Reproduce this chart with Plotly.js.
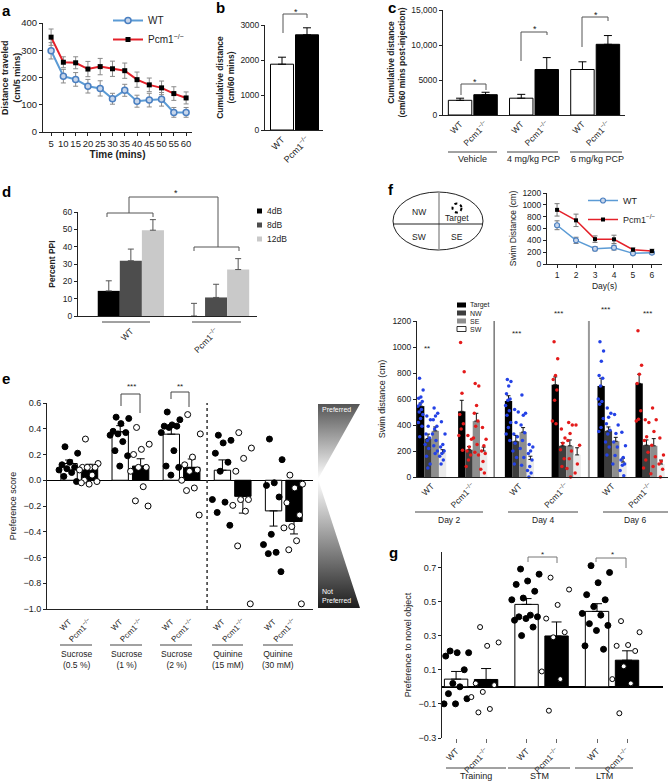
<!DOCTYPE html>
<html><head><meta charset="utf-8">
<script src="https://cdn.plot.ly/plotly-3.0.1.min.js"></script>
<style>body{margin:0;background:#fff}#chart{width:671px;height:783px}</style>
</head><body><div id="chart"></div>
<script>
const FONT='Liberation Sans, Arial, sans-serif';
const KO='Pcm1<sup>−/−</sup>';
// ---------- Panel a ----------
const aTime=[5,10,15,20,25,30,35,40,45,50,55,60];
const aWT=[298,205,193,168,160,122,153,113,117,120,72,72];
const aWTerr=[30,25,25,25,28,20,22,22,25,25,18,18];
const aKO=[348,256,254,231,240,232,225,192,173,162,141,125];
const aKOerr=[30,20,22,28,30,28,28,28,25,25,25,22];
// ---------- Panel b ----------
const bGeno=['WT',KO];
const bVals=[1880,2720];
const bErr=[200,200];
// ---------- Panel c ----------
const cDose=['Vehicle','4 mg/kg PCP','6 mg/kg PCP'];
const cWT=[2100,2400,6500], cWTerr=[300,550,1100];
const cKO=[2900,6500,10100], cKOerr=[350,1700,1250];
// ---------- Panel d ----------
const dGeno=['WT',KO];
const dLevels=['4dB','8dB','12dB'];
const d4dB=[14.5,0], d4dBErr=[5.8,7.3];
const d8dB=[31.9,10.7], d8dBErr=[6.7,7.6];
const d12dB=[49.5,26.8], d12dBErr=[6.1,6.3];
// ---------- Panel e ----------
const eGroups=['Sucrose<br>(0.5 %)','Sucrose<br>(1 %)','Sucrose<br>(2 %)','Quinine<br>(15 mM)','Quinine<br>(30 mM)'];
const eWT=[0.13,0.376,0.358,0.078,-0.238], eWTerr=[0.027,0.048,0.052,0.08,0.118];
const eKO=[0.084,0.11,0.10,-0.125,-0.32], eKOerr=[0.04,0.057,0.065,0.13,0.097];
const eWTpts=[[0.26,0.21,0.14,0.12,0.10,0.09,0.08,0.06,0.03,-0.01],
 [0.49,0.48,0.44,0.38,0.37,0.36,0.35,0.30,0.23,0.19,0.11],
 [0.53,0.47,0.43,0.42,0.42,0.41,0.37,0.23,0.11,0.10,0.04],
 [0.35,0.31,0.29,0.21,0.14,0.07,-0.15,-0.17,-0.25,-0.35],
 [0.32,0.16,-0.02,-0.04,-0.13,-0.42,-0.50,-0.56,-0.57,-0.71]];
const eKOpts=[[0.32,0.13,0.10,0.10,0.10,0.10,0.08,0.04,0.0,-0.01,-0.03,-0.02],
 [0.41,0.28,0.24,0.20,0.10,0.10,0.07,-0.05,-0.16,-0.20],
 [0.51,0.36,0.18,0.12,0.08,0.07,0.0,-0.06,-0.08,-0.27],
 [0.37,0.25,0.17,0.07,-0.15,-0.15,-0.195,-0.24,-0.51,-0.96],
 [0.04,-0.03,-0.06,-0.175,-0.27,-0.36,-0.37,-0.47,-0.54,-0.96]];
// ---------- Panel f (line) ----------
const fDays=[1,2,3,4,5,6];
const fLineWT=[655,400,258,276,180,192], fLineWTerr=[75,52,35,40,25,25];
const fLineKO=[915,738,420,417,242,220], fLineKOerr=[105,105,55,70,30,30];
// ---------- Panel f (bars) ----------
const fGroupLabels=['WT',KO,'WT',KO,'WT',KO];
const fDayNames=['Day 2','Day 4','Day 6'];
const fQuad=['Target','NW','SE','SW'];
const fTarget=[545,505,585,710,700,720], fTargetErr=[25,85,40,60,60,70];
const fNW=[295,210,275,240,355,245], fNWErr=[35,25,45,25,30,40];
const fSE=[355,430,345,240,275,240], fSEErr=[30,60,35,45,30,55];
const fSW=[185,200,135,170,115,100], fSWErr=[25,30,25,55,30,30];
const fTargetPts=[[760,670,615,605,580,560,545,520,500,480,450,420,390,310],
 [1035,810,645,480,410,370,320,205],
 [750,735,700,640,600,590,550,510,475,420,380,330,280],
 [1040,910,780,750,670,590,430,410],
 [1040,970,890,780,760,700,600,580,560,450,380,350],
 [1125,860,790,720,510,445,430]];
const fNWPts=[[470,440,390,330,300,280,250,220,160,100,70],
 [320,290,230,200,170,130,80],
 [520,500,420,330,310,260,200,150,100],
 [370,300,260,210,140,80],
 [530,490,460,410,360,330,270,230,170],
 [440,420,310,280,190,130,70]];
const fSEPts=[[530,490,470,440,390,370,330,280,240,200,180],
 [720,700,550,490,430,390,300,250,190,170],
 [630,490,475,400,340,280,220,150,90],
 [420,400,335,280,200,140,65,0],
 [480,400,335,270,230,165,100],
 [530,440,350,245,155,80,25]];
const fSWPts=[[425,330,250,230,200,180,160,130,100],
 [380,290,240,200,180,120,60,30],
 [250,230,200,180,130,80,50,30,0],
 [400,245,100,30],
 [345,240,150,130,100,90,50,10],
 [300,170,120,100,60,0]];
// ---------- Panel g ----------
const gGroups=['Training','STM','LTM'];
const gWT=[0.045,0.483,0.442], gWTerr=[0.045,0.034,0.045];
const gKO=[0.043,0.298,0.156], gKOerr=[0.064,0.082,0.055];
const gWTpts=[[0.21,0.2,0.2,0.18,0.1,0.02,0.01,0.0,-0.04,-0.07,-0.1,-0.1],
 [0.69,0.66,0.62,0.6,0.56,0.52,0.51,0.42,0.41,0.41,0.4,0.39,0.35,0.3],
 [0.71,0.67,0.61,0.54,0.51,0.47,0.43,0.42,0.37,0.36,0.33,0.24,0.22]];
const gKOpts=[[0.35,0.26,0.24,0.02,0.01,-0.03,-0.06,-0.13,-0.15],
 [0.64,0.57,0.48,0.4,0.32,0.29,0.09,0.045,-0.14],
 [0.385,0.32,0.245,0.24,0.21,0.12,0.045,0.02,-0.155]];

// ================= layout helpers =================
const W=671,H=783;
const fx=v=>v/W, fy=v=>1-v/H;
const XD=(a,b)=>[fx(a),fx(b)], YD=(t,b)=>[fy(b),fy(t)];
const jit=(i,s)=>((((i*0.618034)+0.3)%1)-0.5)*s;
const upE=(v,e)=>v.map((x,i)=>x>=0?e[i]:0);
const dnE=(v,e)=>v.map((x,i)=>x<0?e[i]:0);
const zeros=n=>new Array(n).fill(0);
const traces=[];
const BLUE='#5b9bd5', RED='#e4212a';

// ---- a
traces.push({type:'scatter',xaxis:'x',yaxis:'y',x:aTime,y:aWT,name:'WT',mode:'lines+markers',legend:'legend',
 line:{color:BLUE,width:2},marker:{symbol:'circle',size:6,color:'#c8d6ea',line:{color:'#4a7fc1',width:1.5}},
 error_y:{type:'data',array:aWTerr,color:'#8a8a8a',thickness:1,width:2.5}});
traces.push({type:'scatter',xaxis:'x',yaxis:'y',x:aTime,y:aKO,name:KO,mode:'lines+markers',legend:'legend',
 line:{color:RED,width:2},marker:{symbol:'square',size:5,color:'#000'},
 error_y:{type:'data',array:aKOerr,color:'#8a8a8a',thickness:1,width:2.5}});
// ---- b
traces.push({type:'bar',xaxis:'x2',yaxis:'y2',x:bGeno,y:bVals,width:0.92,showlegend:false,
 marker:{color:['#fff','#000'],line:{color:'#000',width:1}},
 error_y:{type:'data',symmetric:false,array:bErr,arrayminus:zeros(2),color:'#000',thickness:1,width:4}});
// ---- c
const cPosWT=cDose.map((_,g)=>g*2.4), cPosKO=cDose.map((_,g)=>g*2.4+1);
traces.push({type:'bar',xaxis:'x3',yaxis:'y3',x:cPosWT,y:cWT,width:0.92,showlegend:false,
 marker:{color:'#fff',line:{color:'#000',width:1}},
 error_y:{type:'data',symmetric:false,array:cWTerr,arrayminus:zeros(3),color:'#000',thickness:1,width:4}});
traces.push({type:'bar',xaxis:'x3',yaxis:'y3',x:cPosKO,y:cKO,width:0.92,showlegend:false,
 marker:{color:'#000',line:{color:'#000',width:1}},
 error_y:{type:'data',symmetric:false,array:cKOerr,arrayminus:zeros(3),color:'#000',thickness:1,width:4}});
// ---- d
const dSeries=[d4dB,d8dB,d12dB], dErrs=[d4dBErr,d8dBErr,d12dBErr], dColors=['#000','#4d4d4d','#c9c9c9'];
dLevels.forEach((lv,k)=>traces.push({type:'bar',xaxis:'x4',yaxis:'y4',x:dGeno,y:dSeries[k],name:lv,showlegend:false,
 width:0.259,offset:-0.3885+k*0.259,marker:{color:dColors[k]},
 error_y:{type:'data',symmetric:false,array:dErrs[k],arrayminus:zeros(2),color:'#555',thickness:1,width:3}}));
// ---- e
const ePosWT=eGroups.map((_,g)=>g*2.5), ePosKO=eGroups.map((_,g)=>g*2.5+1);
traces.push({type:'bar',xaxis:'x5',yaxis:'y5',x:ePosWT,y:eWT,width:0.8,showlegend:false,
 marker:{color:'#fff',line:{color:'#000',width:1}},
 error_y:{type:'data',symmetric:false,array:upE(eWT,eWTerr),arrayminus:dnE(eWT,eWTerr),color:'#000',thickness:1,width:4}});
traces.push({type:'bar',xaxis:'x5',yaxis:'y5',x:ePosKO,y:eKO,width:0.8,showlegend:false,
 marker:{color:'#000',line:{color:'#000',width:1}},
 error_y:{type:'data',symmetric:false,array:upE(eKO,eKOerr),arrayminus:dnE(eKO,eKOerr),color:'#000',thickness:1,width:4}});
function ptsTrace(groups,pos,spread,xa,ya,filled,size){
  const xs=[],ys=[];
  groups.forEach((arr,g)=>arr.forEach((v,i)=>{xs.push(pos[g]+jit(i,spread));ys.push(v);}));
  return {type:'scatter',mode:'markers',xaxis:xa,yaxis:ya,x:xs,y:ys,showlegend:false,cliponaxis:false,
   marker:{size:size,color:filled?'#000':'#fff',line:{color:'#000',width:1}}};
}
traces.push(ptsTrace(eWTpts,ePosWT,1.0,'x5','y5',true,6));
traces.push(ptsTrace(eKOpts,ePosKO,1.0,'x5','y5',false,6));
// ---- e gradient wedge (decoration)
traces.push({type:'scatter',xaxis:'x6',yaxis:'y6',x:[0,1,0,1,0,0],y:[1,1,0.632,0,0,1],mode:'lines',line:{width:0,color:'rgba(0,0,0,0)'},
 fill:'toself',fillgradient:{type:'vertical',colorscale:[[0,'#1e1e1e'],[0.632,'#ffffff'],[1,'#555555']]},showlegend:false,hoverinfo:'skip'});
// ---- f line
traces.push({type:'scatter',xaxis:'x7',yaxis:'y7',x:fDays,y:fLineWT,name:'WT',mode:'lines+markers',legend:'legend3',
 line:{color:BLUE,width:1.5},marker:{symbol:'circle',size:5,color:'#c8d6ea',line:{color:'#4a7fc1',width:1.2}},
 error_y:{type:'data',array:fLineWTerr,color:'#777',thickness:1,width:2.5}});
traces.push({type:'scatter',xaxis:'x7',yaxis:'y7',x:fDays,y:fLineKO,name:KO,mode:'lines+markers',legend:'legend3',
 line:{color:RED,width:1.5},marker:{symbol:'square',size:4,color:'#000'},
 error_y:{type:'data',array:fLineKOerr,color:'#777',thickness:1,width:2.5}});
// ---- f bars
const fPos=[0,0.94,2.01,3.08,4.13,5.0];
const fBW=0.167;
const fMeans=[fTarget,fNW,fSE,fSW], fErrs=[fTargetErr,fNWErr,fSEErr,fSWErr], fPts=[fTargetPts,fNWPts,fSEPts,fSWPts];
const fColors=['#000','#3d3d3d','#8e8e8e','#ebebeb'];
fQuad.forEach((q,k)=>traces.push({type:'bar',xaxis:'x8',yaxis:'y8',x:fPos,y:fMeans[k],name:q,showlegend:false,
 width:fBW,offset:-2*fBW+k*fBW,marker:{color:fColors[k],line:{width:0}},
 error_y:{type:'data',symmetric:false,array:fErrs[k],arrayminus:zeros(6),color:'#111',thickness:1,width:2}}));
const fxW=[],fyW=[],fxK=[],fyK=[];
fPts.forEach((set,k)=>set.forEach((arr,g)=>arr.forEach((v,i)=>{
  const xx=fPos[g]-2*fBW+(k+0.5)*fBW+jit(i,fBW*0.8);
  if(g%2===0){fxW.push(xx);fyW.push(v);}else{fxK.push(xx);fyK.push(v);}
})));
traces.push({type:'scatter',mode:'markers',xaxis:'x8',yaxis:'y8',x:fxW,y:fyW,showlegend:false,cliponaxis:false,marker:{size:3.5,color:'#2442e6'}});
traces.push({type:'scatter',mode:'markers',xaxis:'x8',yaxis:'y8',x:fxK,y:fyK,showlegend:false,cliponaxis:false,marker:{size:3.5,color:'#e41b1b'}});
// ---- g
const gPosWT=gGroups.map((_,g)=>g*2.35), gPosKO=gGroups.map((_,g)=>g*2.35+1);
traces.push({type:'bar',xaxis:'x9',yaxis:'y9',x:gPosWT,y:gWT,width:0.78,showlegend:false,
 marker:{color:'#fff',line:{color:'#000',width:1}},
 error_y:{type:'data',symmetric:false,array:gWTerr,arrayminus:zeros(3),color:'#000',thickness:1,width:5}});
traces.push({type:'bar',xaxis:'x9',yaxis:'y9',x:gPosKO,y:gKO,width:0.78,showlegend:false,
 marker:{color:'#000',line:{color:'#000',width:1}},
 error_y:{type:'data',symmetric:false,array:gKOerr,arrayminus:zeros(3),color:'#000',thickness:1,width:5}});
traces.push(ptsTrace(gWTpts,gPosWT,1.0,'x9','y9',true,6));
traces.push(ptsTrace(gKOpts,gPosKO,1.0,'x9','y9',false,5));

// ================= axes =================
const TF=(s)=>({family:FONT,size:s,color:'#222'});
function ax(o){return Object.assign({showgrid:false,zeroline:false,showline:true,linecolor:'#222',linewidth:1,
 ticks:'outside',ticklen:3,tickcolor:'#222',tickfont:TF(9),fixedrange:true},o);}
const alt=n=>Array.from({length:n},(_,i)=>i%2?KO:'WT');

const layout={width:W,height:H,margin:{l:0,r:0,t:0,b:0},paper_bgcolor:'#fff',plot_bgcolor:'rgba(0,0,0,0)',
 font:{family:FONT,color:'#222'},barmode:'overlay',showlegend:true,
 xaxis:ax({domain:XD(43,192),anchor:'y',range:[1.7,62.4],tickvals:aTime,tickangle:0,tickfont:TF(9.5),
   title:{text:'<b>Time (mins)</b>',font:TF(10),standoff:2}}),
 yaxis:ax({domain:YD(23,132),anchor:'x',range:[0,400],dtick:100,tickfont:TF(9.5)}),
 xaxis2:ax({domain:XD(265,323),anchor:'y2',type:'category',range:[-0.68,1.64],tickangle:-45,ticks:'',tickfont:TF(9)}),
 yaxis2:ax({domain:YD(25,130),anchor:'x2',range:[0,3000],dtick:1000,tickfont:TF(8.5),
   title:{text:'<b>Cumulative distance<br>(cm/60 mins)</b>',font:TF(8.5),standoff:4}}),
 xaxis3:ax({domain:XD(443,625),anchor:'y3',range:[-0.67,6.47],tickvals:cPosWT.flatMap((v,i)=>[v,cPosKO[i]]),
   ticktext:alt(6),tickangle:-45,ticks:'',tickfont:TF(8.5)}),
 yaxis3:ax({domain:YD(10,115),anchor:'x3',range:[0,15000],tickvals:[0,5000,10000,15000],ticktext:['0','5000','10,000','15,000'],tickfont:TF(8.5),
   title:{text:'<b>Cumulative distance<br>(cm/60 mins post-injection)</b>',font:TF(8.5),standoff:4}}),
 xaxis4:ax({domain:XD(78,257),anchor:'y4',type:'category',range:[-0.62,1.48],tickangle:-45,ticks:'',ticklabelstandoff:6,tickfont:TF(8.5)}),
 yaxis4:ax({domain:YD(212,316),anchor:'x4',range:[0,60],dtick:10,tickfont:TF(8.5),
   title:{text:'<b>Percent PPI</b>',font:TF(8.5),standoff:5}}),
 xaxis5:ax({domain:XD(47,313),anchor:'y5',range:[-1.08,11.93],tickvals:ePosWT.flatMap((v,i)=>[v,ePosKO[i]]),
   ticktext:alt(10),tickangle:-45,ticks:'',ticklabelstandoff:4,tickfont:TF(8)}),
 yaxis5:ax({domain:YD(403,609),anchor:'x5',range:[-1,0.6],dtick:0.2,tickformat:'.1f',tickfont:TF(9),
   zeroline:true,zerolinecolor:'#000',zerolinewidth:1.5,title:{text:'Preference score',font:TF(9),standoff:5}}),
 xaxis6:{domain:XD(318,360),anchor:'y6',range:[0,1],visible:false,fixedrange:true},
 yaxis6:{domain:YD(404,608),anchor:'x6',range:[0,1],visible:false,fixedrange:true},
 xaxis7:ax({domain:XD(547,662),anchor:'y7',range:[0.47,6.53],dtick:1,tickfont:TF(8.5),
   title:{text:'Day(s)',font:TF(8.5),standoff:3}}),
 yaxis7:ax({domain:YD(193,264),anchor:'x7',range:[0,1200],dtick:200,tickfont:TF(8.5),
   title:{text:'Swim Distance (cm)',font:TF(8.5),standoff:4}}),
 xaxis8:ax({domain:XD(417,668),anchor:'y8',range:[-0.335,5.41],tickvals:fPos,ticktext:fGroupLabels,tickangle:-45,ticks:'',tickfont:TF(8.5)}),
 yaxis8:ax({domain:YD(321,477),anchor:'x8',range:[0,1200],dtick:200,tickfont:TF(8.5),
   title:{text:'Swim distance (cm)',font:TF(9),standoff:5}}),
 xaxis9:ax({domain:XD(442,663),anchor:'y9',range:[-0.47,6.9],tickvals:gPosWT.flatMap((v,i)=>[v,gPosKO[i]]),
   ticktext:alt(6),tickangle:-45,showline:false,ticklen:4,tickcolor:'#666',tickfont:TF(8.5)}),
 yaxis9:ax({domain:YD(552,738),anchor:'x9',range:[-0.3,0.79],tickvals:[-0.3,-0.1,0.1,0.3,0.5,0.7],tickformat:'.1f',tickfont:TF(9),
   zeroline:true,zerolinecolor:'#000',zerolinewidth:1.5,title:{text:'Preference to novel object',font:TF(9),standoff:5}}),
 legend:{x:fx(108),y:fy(6),xanchor:'left',yanchor:'top',bgcolor:'rgba(0,0,0,0)',font:TF(10),itemwidth:30,tracegroupgap:0},
 legend3:{x:fx(583),y:fy(186),xanchor:'left',yanchor:'top',bgcolor:'rgba(0,0,0,0)',font:TF(9),itemwidth:30,tracegroupgap:0}
};

// ================= annotations =================
const A=(text,x,y,o={})=>Object.assign({text,x:fx(x),y:fy(y),xref:'paper',yref:'paper',showarrow:false,
  font:TF(9),xanchor:'center',yanchor:'middle'},o);
const LET=(t,x,y)=>A('<b>'+t+'</b>',x,y,{xanchor:'left',font:{family:FONT,size:15,color:'#000'}});
const ann=[LET('a',0,11),LET('b',214,7),LET('c',386,7),LET('d',0,191),LET('e',0,378),LET('f',386,189),LET('g',387,552),
 A('<b>Distance traveled<br>(cm/5 mins)</b>',11,78,{textangle:-90,font:TF(9)}),
 A('*',296,12),A('*',475,82),A('*',535,29),A('*',596,15),A('*',176,193),
 A('***',131,386,{font:TF(8)}),A('**',180,386,{font:TF(8)}),
 A('**',427,348,{font:TF(8)}),A('***',516,333,{font:TF(8)}),A('***',558,313,{font:TF(8)}),A('***',605,310,{font:TF(8)}),A('***',647,313,{font:TF(8)}),
 A('*',542,554,{font:TF(8)}),A('*',612,554,{font:TF(8)}),
 A('NW',419,212,{font:TF(8.5)}),A('Target',457,218,{font:TF(8.5)}),A('SW',419,237,{font:TF(8.5)}),A('SE',457,237,{font:TF(8.5)}),
 A('Preferred',320,409,{xanchor:'left',font:{family:FONT,size:7,color:'#fff'}}),
 A('Not<br>Preferred',320,596,{xanchor:'left',align:'left',font:{family:FONT,size:7,color:'#fff'}})
];
const cCent=[472,533,597]; cDose.forEach((t,i)=>ann.push(A(t,cCent[i],159,{font:TF(9)})));
const eCent=[76,126,176,227.5,278]; eGroups.forEach((t,i)=>ann.push(A(t,eCent[i],659,{font:TF(8.5)})));
const fCent=[449,543,635]; fDayNames.forEach((t,i)=>ann.push(A(t,fCent[i],520,{font:TF(8.5)})));
const gCent=[476,539,604]; gGroups.forEach((t,i)=>ann.push(A(t,gCent[i],776,{font:TF(9)})));
const fLegY=[305,313,321,329];
fQuad.forEach((q,k)=>ann.push(A(q,468,fLegY[k],{xanchor:'left',font:TF(7)})));
const dLegY=[211,225,239];
dLevels.forEach((lv,k)=>ann.push(A(lv,265,dLegY[k],{xanchor:'left',font:TF(8.5)})));
layout.annotations=ann;

// ================= shapes =================
const L=(x0,y0,x1,y1,c='#444',w=1,dash='solid')=>({type:'line',xref:'paper',yref:'paper',x0:fx(x0),y0:fy(y0),x1:fx(x1),y1:fy(y1),line:{color:c,width:w,dash}});
const BR=(x1,x2,top,b1,b2,c='#555')=>({type:'path',xref:'paper',yref:'paper',
  path:`M${fx(x1)},${fy(b1)} L${fx(x1)},${fy(top)} L${fx(x2)},${fy(top)} L${fx(x2)},${fy(b2)}`,line:{color:c,width:1}});
const shapes=[
 BR(283,307,14,33,18), BR(461,486,84,95,90), BR(521,547,32,61,35), BR(582,608,17,47,21),
 BR(107,153,213,217,217), BR(194,239,247,251,251), BR(129,218,197,213,247),
 BR(121,140,394,406,413,'#444'), BR(171,189,392,399,407,'#444'),
 BR(528,557,557,562,563,'#777'), BR(596,626,558,562,568,'#777'),
 L(448,152,497,152),L(507,152,558,152),L(570,152,622,152),
 L(102,322,150,322),L(192,322,241,322),
 L(60,645,92,645),L(110,645,142,645),L(160,645,192,645),L(212,645,243,645),L(263,645,293,645),
 L(415,512,483,512),L(508,512,578,512),L(603,512,668,512),
 L(446,768,506,768),L(508,768,570,768),L(575,768,633,768),
 {type:'line',xref:'x5',yref:'y5',x0:6.75,x1:6.75,y0:-1,y1:0.6,line:{color:'#333',width:1.5,dash:'dot'}},
 {type:'line',xref:'x8',yref:'y8',x0:1.43,x1:1.43,y0:0,y1:1200,line:{color:'#333',width:1}},
 {type:'line',xref:'x8',yref:'y8',x0:3.6,x1:3.6,y0:0,y1:1200,line:{color:'#999',width:2}},
 {type:'circle',xref:'paper',yref:'paper',x0:fx(393),x1:fx(483),y0:fy(250),y1:fy(192),line:{color:'#222',width:1}},
 L(439,192,439,250,'#999',1.5), L(393,224,483,224,'#222',1),
 {type:'circle',xref:'paper',yref:'paper',x0:fx(452.5),x1:fx(461.5),y0:fy(212.5),y1:fy(203.5),line:{color:'#000',width:2,dash:'dot'}}
];
const fLegC=['#000','#3d3d3d','#8e8e8e','#fff'];
fLegY.forEach((y,k)=>shapes.push({type:'rect',xref:'paper',yref:'paper',x0:fx(457),x1:fx(466),y0:fy(y+2.5),y1:fy(y-2.5),
  fillcolor:fLegC[k],line:{color:'#000',width:k===3?0.8:0}}));
dLegY.forEach((y,k)=>shapes.push({type:'rect',xref:'paper',yref:'paper',x0:fx(257),x1:fx(262),y0:fy(y+2.5),y1:fy(y-2.5),
  fillcolor:dColors[k],line:{width:0}}));
layout.shapes=shapes;

Plotly.newPlot('chart',traces,layout,{displayModeBar:false,staticPlot:true});
</script></body></html>
